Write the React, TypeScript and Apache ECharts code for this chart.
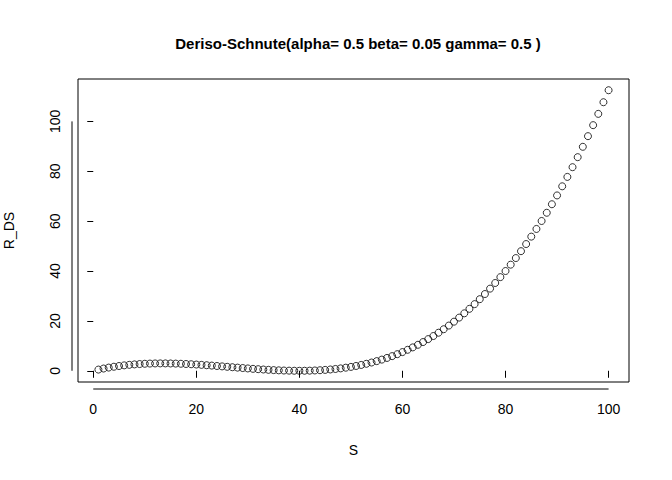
import React, { useEffect, useRef } from "react";
import * as echarts from "echarts";

const S = Array.from({ length: 100 }, (_, i) => i + 1);
const R_DS = [
  0.48, 0.9, 1.28, 1.62, 1.91, 2.17, 2.38, 2.56, 2.7, 2.81,
  2.89, 2.94, 2.96, 2.96, 2.93, 2.88, 2.81, 2.72, 2.62, 2.5,
  2.37, 2.23, 2.08, 1.92, 1.76, 1.59, 1.43, 1.26, 1.1, 0.94,
  0.78, 0.64, 0.51, 0.38, 0.27, 0.18, 0.1, 0.05, 0.01, 0,
  0.01, 0.05, 0.12, 0.22, 0.35, 0.52, 0.72, 0.96, 1.24, 1.56,
  1.93, 2.34, 2.8, 3.31, 3.87, 4.48, 5.15, 5.87, 6.66, 7.5,
  8.41, 9.38, 10.42, 11.52, 12.7, 13.94, 15.26, 16.66, 18.13, 19.69,
  21.32, 23.04, 24.84, 26.73, 28.71, 30.78, 32.94, 35.2, 37.55, 40,
  42.55, 45.2, 47.96, 50.82, 53.79, 56.87, 60.06, 63.36, 66.78, 70.31,
  73.97, 77.74, 81.64, 85.66, 89.81, 94.08, 98.49, 103.02, 107.69, 112.5,
];
const xTicks = [0, 20, 40, 60, 80, 100];
const yTicks = [0, 20, 40, 60, 80, 100];

const font = "Arial, 'Liberation Sans', sans-serif";

export default function App() {
  const ref = useRef<HTMLDivElement>(null);

  useEffect(() => {
    if (!ref.current) return;
    const chart = echarts.init(ref.current, undefined, { renderer: "svg" });
    chart.setOption({
      animation: false,
      backgroundColor: "#fff",
      title: {
        text: "Deriso-Schnute(alpha= 0.5 beta= 0.05 gamma= 0.5 )",
        left: 353,
        textAlign: "center",
        top: 31,
        textStyle: { fontFamily: font, fontSize: 15, fontWeight: "bold", color: "#000" },
      },
      grid: {
        left: 78, right: 43, top: 79, bottom: 98,
        outerBoundsMode: "none",
        containLabel: false,
        show: true, borderColor: "#000", borderWidth: 1, backgroundColor: "transparent",
      },
      xAxis: {
        type: "value", min: -2.96, max: 103.96,
        position: "bottom",
        offset: 7,
        name: "S", nameLocation: "middle", nameGap: 54,
        nameTextStyle: { fontFamily: font, fontSize: 14, color: "#000" },
        axisLine: { show: false },
        axisTick: { show: true, inside: false, length: 7, lineStyle: { color: "#000" }, customValues: xTicks },
        axisLabel: { fontFamily: font, fontSize: 14, color: "#000", margin: 13, customValues: xTicks },
        splitLine: { show: false },
      },
      yAxis: {
        type: "value", min: -4.5, max: 117,
        position: "left",
        offset: 6,
        name: "R_DS", nameLocation: "middle", nameGap: 56, nameRotate: 90,
        nameTextStyle: { fontFamily: font, fontSize: 14, color: "#000" },
        axisLine: { show: false },
        axisTick: { show: true, inside: false, length: 6, lineStyle: { color: "#000" }, customValues: yTicks },
        axisLabel: { fontFamily: font, fontSize: 14, color: "#000", rotate: 90, margin: 10, customValues: yTicks },
        splitLine: { show: false },
      },
      series: [
        {
          type: "scatter",
          data: S.map((s, i) => [s, R_DS[i]]),
          symbol: "circle",
          symbolSize: 7,
          itemStyle: { color: "transparent", borderColor: "#000", borderWidth: 1 },
        },
      ],
    });
    const p0 = chart.convertToPixel({ gridIndex: 0 }, [0, 0]);
    const p1 = chart.convertToPixel({ gridIndex: 0 }, [100, 100]);
    const rect = (chart as any).getModel().getComponent("grid").coordinateSystem.getRect();
    const ly = rect.y + rect.height + 7;
    const lx = rect.x - 6;
    chart.setOption({
      graphic: [
        { type: "line", shape: { x1: p0[0], y1: ly, x2: p1[0], y2: ly }, style: { stroke: "#000", lineWidth: 1 } },
        { type: "line", shape: { x1: lx, y1: p0[1], x2: lx, y2: p1[1] }, style: { stroke: "#000", lineWidth: 1 } },
      ],
    });
    return () => chart.dispose();
  }, []);

  return <div ref={ref} style={{ width: 672, height: 480, position: "absolute", left: 0, top: 0 }} />;
}
